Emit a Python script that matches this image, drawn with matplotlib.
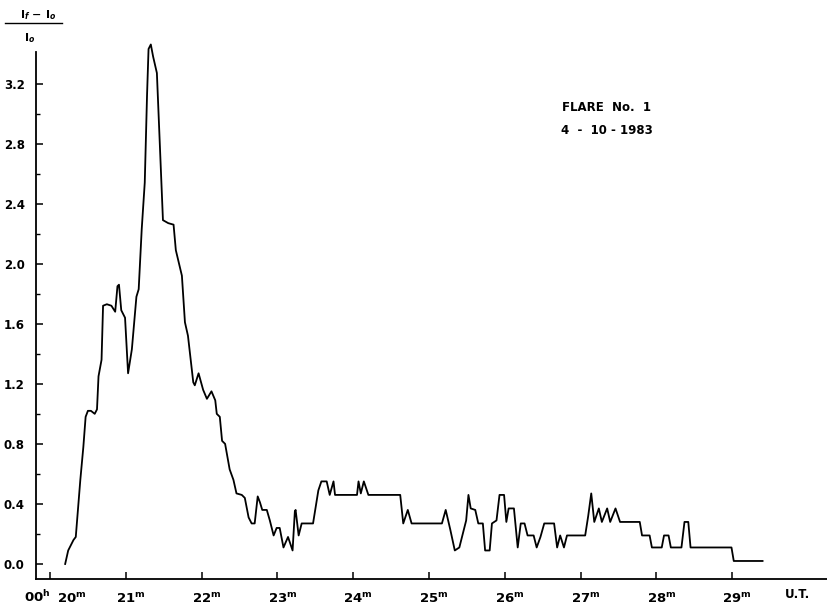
import matplotlib
matplotlib.use("Agg")
import matplotlib.pyplot as plt
import matplotlib.transforms as mtransforms
from matplotlib.lines import Line2D

# time in minutes after 00h (U.T.), relative intensity (If - Io)/Io
t = [20.20, 20.24, 20.31, 20.34, 20.40, 20.44, 20.47, 20.50, 20.54, 20.59,
     20.62, 20.64, 20.68, 20.70, 20.75, 20.81, 20.86, 20.89, 20.91, 20.94,
     20.99, 21.03, 21.08, 21.14, 21.17, 21.21, 21.25, 21.28, 21.30, 21.33,
     21.36, 21.41, 21.45, 21.49, 21.56, 21.63, 21.66, 21.74, 21.78, 21.82,
     21.89, 21.91, 21.96, 22.02, 22.07, 22.13, 22.18, 22.20, 22.24, 22.27,
     22.31, 22.37, 22.42, 22.46, 22.53, 22.57, 22.62, 22.66, 22.70, 22.74,
     22.77, 22.80, 22.86, 22.90, 22.95, 22.99, 23.03, 23.08, 23.14, 23.20,
     23.23, 23.24, 23.28, 23.32, 23.47, 23.54, 23.58, 23.65, 23.69, 23.74,
     23.76, 24.05, 24.07, 24.10, 24.14, 24.20, 24.62, 24.66, 24.72, 24.77,
     25.17, 25.22, 25.28, 25.34, 25.40, 25.45, 25.49, 25.52, 25.55, 25.61,
     25.65, 25.71, 25.74, 25.80, 25.83, 25.89, 25.93, 25.99, 26.02, 26.05,
     26.12, 26.17, 26.21, 26.26, 26.30, 26.38, 26.42, 26.47, 26.52, 26.65,
     26.69, 26.73, 26.78, 26.82, 27.06, 27.10, 27.14, 27.18, 27.24, 27.28,
     27.35, 27.39, 27.46, 27.52, 27.78, 27.81, 27.91, 27.94, 28.07, 28.10,
     28.16, 28.19, 28.33, 28.37, 28.42, 28.45, 28.99, 29.02, 29.40]
v = [0.00, 0.09, 0.16, 0.18, 0.56, 0.78, 0.98, 1.02, 1.02, 1.00,
     1.03, 1.25, 1.36, 1.72, 1.73, 1.72, 1.68, 1.85, 1.86, 1.69,
     1.64, 1.27, 1.43, 1.78, 1.83, 2.23, 2.54, 3.12, 3.43, 3.46,
     3.38, 3.27, 2.78, 2.29, 2.27, 2.26, 2.09, 1.92, 1.61, 1.52,
     1.21, 1.19, 1.27, 1.16, 1.10, 1.15, 1.09, 1.00, 0.98, 0.82,
     0.80, 0.63, 0.56, 0.47, 0.46, 0.44, 0.31, 0.27, 0.27, 0.45,
     0.41, 0.36, 0.36, 0.29, 0.19, 0.24, 0.24, 0.11, 0.18, 0.09,
     0.35, 0.36, 0.19, 0.27, 0.27, 0.49, 0.55, 0.55, 0.46, 0.55,
     0.46, 0.46, 0.55, 0.47, 0.55, 0.46, 0.46, 0.27, 0.36, 0.27,
     0.27, 0.36, 0.23, 0.09, 0.11, 0.21, 0.29, 0.46, 0.37, 0.36,
     0.27, 0.27, 0.09, 0.09, 0.27, 0.29, 0.46, 0.46, 0.28, 0.37,
     0.37, 0.11, 0.27, 0.27, 0.19, 0.19, 0.11, 0.18, 0.27, 0.27,
     0.11, 0.19, 0.11, 0.19, 0.19, 0.32, 0.47, 0.28, 0.37, 0.28,
     0.37, 0.28, 0.37, 0.28, 0.28, 0.19, 0.19, 0.11, 0.11, 0.19,
     0.19, 0.11, 0.11, 0.28, 0.28, 0.11, 0.11, 0.02, 0.02]

minutes = [20, 21, 22, 23, 24, 25, 26, 27, 28, 29]
yticks = [0.0, 0.4, 0.8, 1.2, 1.6, 2.0, 2.4, 2.8, 3.2]
yminor = [0.2, 0.6, 1.0, 1.4, 1.8, 2.2, 2.6, 3.0]

plt.rcParams['font.family'] = 'DejaVu Sans'
plt.rcParams['font.weight'] = 'bold'

fig = plt.figure(figsize=(8.27, 6.08), dpi=100)
ax = fig.add_axes([0.0435, 0.0477, 0.9565, 0.8668])

ax.plot(t, v, color='black', lw=1.3, clip_on=False, solid_joinstyle='round')

ax.set_xlim(19.815, 30.25)
ax.set_ylim(-0.1, 3.41)

for s in ['top', 'right']:
    ax.spines[s].set_visible(False)
for s in ['left', 'bottom']:
    ax.spines[s].set_linewidth(1.3)

ax.set_yticks(yticks)
ax.set_yticklabels(['%.1f' % y for y in yticks], fontsize=8.5, fontweight='bold')
ax.set_yticks(yminor, minor=True)
ax.set_xticks(minutes)
ax.set_xticklabels([r'$\mathbf{%d^{m}}$' % m for m in minutes], fontsize=9.5)
ax.tick_params(axis='y', which='major', direction='in', length=5, width=1.1, pad=8)
ax.tick_params(axis='y', which='minor', direction='in', length=3, width=1.0)
ax.tick_params(axis='x', which='major', direction='in', length=5, width=1.1, pad=9)

# labels sit a little right of their ticks; the first one makes room for 00h
for i, lab in enumerate(ax.get_xticklabels()):
    dx = 22 if i == 0 else 5
    lab.set_transform(lab.get_transform() + mtransforms.ScaledTranslation(dx / 100, 0, fig.dpi_scale_trans))

fig.text(37 / 827, 1 - 597 / 608, r'$\mathbf{00^{h}}$', fontsize=9.5, ha='center', va='center')
fig.text(797 / 827, 1 - 594 / 608, 'U.T.', fontsize=8.5, ha='center', va='center', fontweight='bold')

# y label as a fraction
fig.text(38 / 827, 1 - 15 / 608, r'I$_f$ $-$ I$_o$', fontsize=8, ha='center', va='center')
fig.add_artist(Line2D([5 / 827, 62 / 827], [1 - 23 / 608, 1 - 23 / 608], color='black', lw=1.0))
fig.text(30 / 827, 1 - 38 / 608, r'I$_o$', fontsize=8, ha='center', va='center')

fig.text(606 / 827, 1 - 108 / 608, 'FLARE  No.  1', fontsize=8.5, ha='center', va='center', fontweight='bold')
fig.text(607 / 827, 1 - 131 / 608, '4  -  10 - 1983', fontsize=8.5, ha='center', va='center', fontweight='bold')

fig.savefig('out.png', dpi=100)
